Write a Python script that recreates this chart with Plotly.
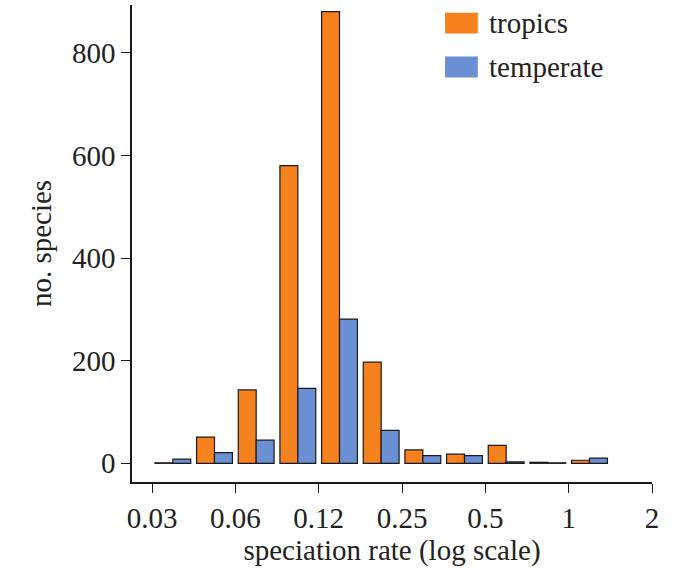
import plotly.graph_objects as go

# speciation-rate bins: half-octave bins, centre of each bin given as log2(rate)
bin_centers_log2 = [-4.75, -4.25, -3.75, -3.25, -2.75, -2.25, -1.75, -1.25, -0.75, -0.25, 0.25]
tropics = [1, 51, 143, 580, 880, 197, 26, 18, 35, 2, 6]
temperate = [8, 21, 45, 146, 281, 64, 15, 15, 3, 1, 10]
series_names = ["tropics", "temperate"]
series_colors = ["#F6821F", "#6A8FD3"]

# x ticks: log2(rate) and the labels shown
tick_vals_log2 = [-5, -4, -3, -2, -1, 0, 1]
tick_text = ["0.03", "0.06", "0.12", "0.25", "0.5", "1", "2"]
y_ticks = [0, 200, 400, 600, 800]

FONT = "Liberation Serif"
FS = 29
TXT = "#222222"

fig = go.Figure()
for name, vals, col in zip(series_names, [tropics, temperate], series_colors):
    fig.add_trace(go.Bar(
        x=bin_centers_log2, y=vals, name=name,
        marker=dict(color=col, line=dict(color="#1a1a1a", width=1.2)),
        showlegend=False,
    ))

fig.update_layout(
    width=673, height=577,
    margin=dict(l=132, r=21, t=5, b=95),
    plot_bgcolor="white", paper_bgcolor="white",
    barmode="group", bargap=0.14, bargroupgap=0,
    font=dict(family=FONT, size=FS, color=TXT),
)
fig.update_xaxes(
    range=[-5.24, 1],
    tickvals=tick_vals_log2, ticktext=tick_text,
    showline=True, linecolor="#1a1a1a", linewidth=1.5,
    ticks="outside", ticklen=9, tickwidth=1.2, tickcolor="#1a1a1a",
    showgrid=False, zeroline=False,
    title=dict(text="speciation rate (log scale)", standoff=6, font=dict(family=FONT, size=FS, color=TXT)),
)
fig.update_yaxes(
    range=[-36.4, 893],
    tickvals=y_ticks,
    showline=True, linecolor="#1a1a1a", linewidth=1.5,
    ticks="outside", ticklen=9, tickwidth=1.2, tickcolor="#1a1a1a",
    showgrid=False, zeroline=False,
    title=dict(text="no. species", standoff=12, font=dict(family=FONT, size=FS, color=TXT)),
)

# custom legend (swatch + label)
legend_rows_y = [0.962, 0.870]
for name, col, yy in zip(series_names, series_colors, legend_rows_y):
    fig.add_shape(type="rect", xref="paper", yref="paper",
                  x0=0.602, x1=0.665, y0=yy - 0.022, y1=yy + 0.022,
                  fillcolor=col, line=dict(width=0))
    fig.add_annotation(xref="paper", yref="paper", x=0.683, y=yy,
                       text=name, showarrow=False, xanchor="left", yanchor="middle",
                       font=dict(family=FONT, size=FS, color=TXT))

fig.write_html("out.html")
